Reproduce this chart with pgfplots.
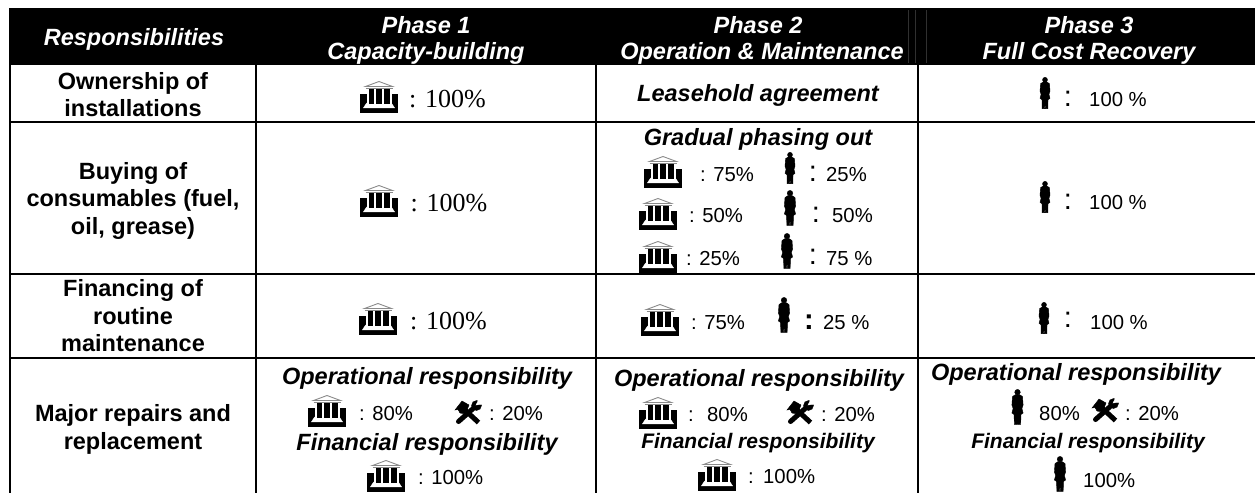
\documentclass[border=0pt]{standalone}
\usepackage{pgfplots}
\pgfplotsset{compat=1.18}
\usepackage{fontspec}
\setmainfont{Liberation Sans}
\newfontfamily\tms{Liberation Serif}
\definecolor{hdrline}{HTML}{303030}
\definecolor{roofgray}{HTML}{8A8A8A}
\pgfdeclareplotmark{bank}{%
  \fill[black] (-18.5pt,-15.5pt) rectangle (18.5pt,2.5pt);
  \fill[white] (-12.3pt,-6pt) rectangle (12.3pt,8pt);
  \fill[white] (-12.3pt,-6pt) -- (12.3pt,-6pt) -- (15.5pt,-10.8pt) -- (-15.5pt,-10.8pt) -- cycle;
  \fill[black] (-10.2pt,-6pt) rectangle (-5.4pt,7.5pt);
  \fill[black] (-2.4pt,-6pt) rectangle (2.4pt,7.5pt);
  \fill[black] (5.4pt,-6pt) rectangle (10.2pt,7.5pt);
  \draw[roofgray,line width=.9pt] (-13.5pt,8.5pt) -- (13.5pt,8.5pt);
  \draw[roofgray,line width=.9pt,line join=miter] (-13.5pt,10.5pt) -- (0pt,15.5pt) -- (13.5pt,10.5pt) -- cycle;
}
\pgfdeclareplotmark{person}{%
  \fill[black] (0pt,14.8pt) circle[radius=2.8pt];
  \fill[black] (-1.8pt,12.5pt) -- (1.8pt,12.5pt) -- (5pt,10.5pt) -- (5.6pt,2pt) -- (4.4pt,-1.5pt)
     -- (5.6pt,-6pt) -- (3.4pt,-7.5pt) -- (3.2pt,-17.5pt) -- (0.4pt,-17.5pt) -- (0pt,-9pt)
     -- (-0.4pt,-17.5pt) -- (-3.2pt,-17.5pt) -- (-3.4pt,-7.5pt) -- (-5.6pt,-6pt) -- (-4.4pt,-1.5pt)
     -- (-5.6pt,2pt) -- (-5pt,10.5pt) -- cycle;
}
\pgfdeclareplotmark{tools}{%
  \draw[black,line width=5pt,line cap=round] (-9.5pt,-8.5pt) -- (8pt,7pt);
  \fill[black] (8.5pt,7.5pt) circle[radius=5pt];
  \fill[white] (8pt,8pt) -- (11pt,14pt) -- (15pt,9pt) -- cycle;
  \draw[black,line width=5pt] (-3pt,3pt) -- (10.5pt,-9.5pt);
  \fill[black] (-13pt,3pt) -- (-6pt,12pt) -- (1pt,8pt) -- (-2.5pt,-1pt) -- (-8pt,0pt) -- (-10pt,3.5pt) -- cycle;
}
\tikzset{
  bd/.style={inner sep=0pt,anchor=base,yshift=-8.4pt,
     font=\fontsize{23.5pt}{27pt}\selectfont\bfseries},
  bi/.style={bd,font=\fontsize{23.5pt}{27pt}\selectfont\bfseries\itshape},
  bs/.style={inner sep=0pt,anchor=base,yshift=-7.5pt,
     font=\fontsize{21pt}{24pt}\selectfont\bfseries\itshape},
  wh/.style={bi,text=white},
  tx/.style={inner sep=0pt,anchor=base west,yshift=-7.3pt,
     font=\fontsize{20.3pt}{24pt}\selectfont},
  cl/.style={inner sep=0pt,anchor=base,yshift=-9pt,
     font=\fontsize{29pt}{30pt}\selectfont},
  tm/.style={inner sep=0pt,anchor=base west,yshift=-9pt,
     font=\fontsize{26pt}{30pt}\selectfont\tms},
}
\begin{document}
\begin{tikzpicture}
\path[use as bounding box] (0,0) rectangle (1255pt,493pt);
\begin{axis}[
  at={(0,0)},anchor=south west,
  scale only axis,width=1255pt,height=493pt,
  xmin=0,xmax=1255,ymin=0,ymax=493,y dir=reverse,
  hide axis,clip=false]
% header
\addplot[fill=black,draw=none] coordinates {(9,8) (1255,8) (1255,65) (9,65)} -- cycle;
\addplot[hdrline,line width=.6pt] coordinates {(908.5,10) (908.5,63)};
\addplot[hdrline,line width=.6pt] coordinates {(915.5,10) (915.5,63)};
\addplot[hdrline,line width=.6pt] coordinates {(926,10) (926,63)};
% rules
\addplot[black,line width=2pt] coordinates {(9.5,65) (9.5,493)};
\addplot[black,line width=2pt] coordinates {(256,65) (256,493)};
\addplot[black,line width=2pt] coordinates {(596,65) (596,493)};
\addplot[black,line width=2pt] coordinates {(918,65) (918,493)};
\addplot[black,line width=2pt] coordinates {(9,121.5) (1255,121.5)};
\addplot[black,line width=2pt] coordinates {(9,274) (1255,274)};
\addplot[black,line width=2pt] coordinates {(9,358) (1255,358)};
% icons
\addplot[only marks,mark=bank] coordinates {
 (379,97) (379,201) (378,319) (327,411) (386,476)
 (663,172) (658,214) (658,257) (660,320) (658,413) (717,475)};
\addplot[only marks,mark=person,mark options={scale=.89}] coordinates {
 (1045,93) (1045,197) (1044,318) (790,168)};
\addplot[only marks,mark=person] coordinates {
 (790,208) (787,251) (784,315) (1017.5,407) (1060,474)};
\addplot[only marks,mark=tools] coordinates {(468,413) (800,413) (1105,411)};
% header text
\node[wh] at (axis cs:134,37) {Responsibilities};
\node[wh] at (axis cs:426,25) {Phase 1};
\node[wh] at (axis cs:426,51) {Capacity-building};
\node[wh] at (axis cs:758,25) {Phase 2};
\node[wh] at (axis cs:762,51) {Operation \& Maintenance};
\node[wh] at (axis cs:1089,25) {Phase 3};
\node[wh] at (axis cs:1089,51) {Full Cost Recovery};
% row labels
\node[bd] at (axis cs:133,81) {Ownership of};
\node[bd] at (axis cs:133,108) {installations};
\node[bd] at (axis cs:133,171) {Buying of};
\node[bd] at (axis cs:133,198) {consumables (fuel,};
\node[bd] at (axis cs:133,226) {oil, grease)};
\node[bd] at (axis cs:133,288) {Financing of};
\node[bd] at (axis cs:133,316) {routine};
\node[bd] at (axis cs:133,343) {maintenance};
\node[bd] at (axis cs:133,413) {Major repairs and};
\node[bd] at (axis cs:133,441) {replacement};
% column 1
\node[tm] at (axis cs:409,98) {: 100\%};
\node[tm] at (axis cs:410.5,202) {: 100\%};
\node[tm] at (axis cs:410,320) {: 100\%};
\node[bi] at (axis cs:427,376) {Operational responsibility};
\node[tx] at (axis cs:359,413) {: 80\%};
\node[tx] at (axis cs:489,413) {: 20\%};
\node[bi] at (axis cs:427,442) {Financial responsibility};
\node[tx] at (axis cs:418,477) {: 100\%};
% column 2
\node[bi] at (axis cs:758,93) {Leasehold agreement};
\node[bi] at (axis cs:758,137) {Gradual phasing out};
\node[tx] at (axis cs:700,174) {: 75\%};
\node[cl] at (axis cs:813,172) {:};
\node[tx] at (axis cs:826,174) {25\%};
\node[tx] at (axis cs:689,215) {: 50\%};
\node[cl] at (axis cs:816,213) {:};
\node[tx] at (axis cs:832,215) {50\%};
\node[tx] at (axis cs:686,258) {: 25\%};
\node[cl] at (axis cs:813,255) {:};
\node[tx] at (axis cs:826,258) {75 \%};
\node[tx] at (axis cs:691,322) {: 75\%};
\node[cl,font=\fontsize{29pt}{30pt}\selectfont\bfseries] at (axis cs:809,320) {:};
\node[tx] at (axis cs:823,322) {25 \%};
\node[bi] at (axis cs:759,378) {Operational responsibility};
\node[tx] at (axis cs:688,414) {:};
\node[tx] at (axis cs:707,414) {80\%};
\node[tx] at (axis cs:821,414) {: 20\%};
\node[bs] at (axis cs:758,441) {Financial responsibility};
\node[tx] at (axis cs:748,476) {:};
\node[tx] at (axis cs:763,476) {100\%};
% column 3
\node[cl] at (axis cs:1068,97) {:};
\node[tx] at (axis cs:1089,99) {100 \%};
\node[cl] at (axis cs:1068,200) {:};
\node[tx] at (axis cs:1089,202) {100 \%};
\node[cl] at (axis cs:1068,318) {:};
\node[tx] at (axis cs:1090,322) {100 \%};
\node[bi] at (axis cs:1076,372) {Operational responsibility};
\node[tx] at (axis cs:1039,413) {80\%};
\node[tx] at (axis cs:1125,413) {: 20\%};
\node[bs] at (axis cs:1088,441) {Financial responsibility};
\node[tx] at (axis cs:1083,480) {100\%};
\end{axis}
\end{tikzpicture}
\end{document}
